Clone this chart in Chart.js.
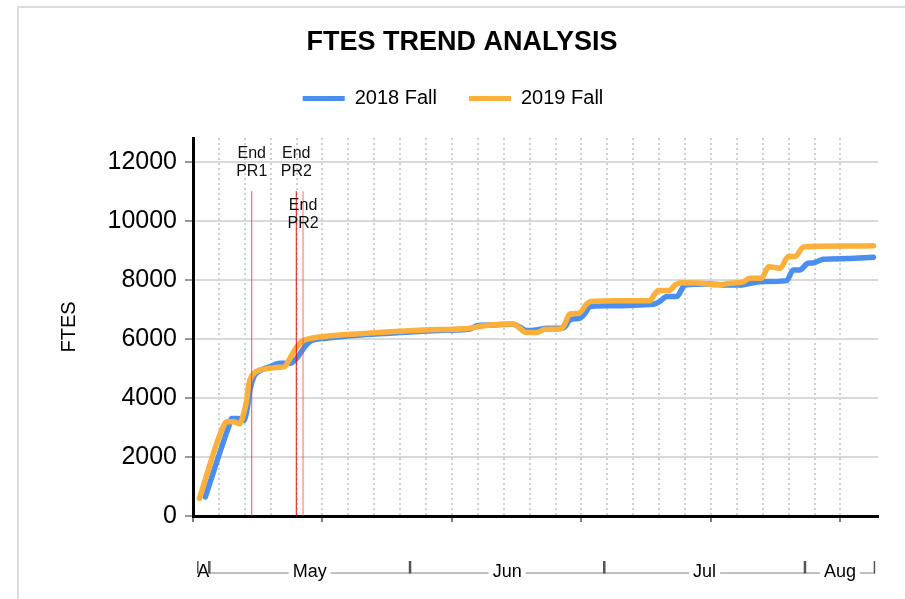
<!DOCTYPE html>
<html>
<head>
<meta charset="utf-8">
<script src="https://cdn.jsdelivr.net/npm/chart.js@4/dist/chart.umd.min.js"></script>
<style>
html,body{margin:0;padding:0;background:#fff;}
#wrap{width:905px;height:599px;position:relative;overflow:hidden;}
canvas{display:block;}
</style>
</head>
<body>
<div id="wrap"><canvas id="c" width="905" height="599"></canvas></div>
<script>
// ---------- data ----------
const chartTitle = 'FTES TREND ANALYSIS';
const seriesNames = ['2018 Fall', '2019 Fall'];
const yTitle = 'FTES';
const yTicks = [0, 2000, 4000, 6000, 8000, 10000, 12000];

// x = days from the left edge of the time axis
const days2018 = [1.9, 5.5, 6.0, 7.0, 7.8, 8.3, 8.8, 9.4, 10.1, 11.9, 13.4, 15.0, 16.0, 17.3, 18.3, 20.6, 25.3, 30.4, 35.6, 40.7, 42.8, 43.8, 46.0, 49.5, 50.6, 51.5, 53.0, 54.6, 56.9, 57.5, 58.2, 59.8, 60.5, 61.3, 62.3, 71.1, 72.0, 73.2, 74.7, 76.0, 79.8, 82.4, 84.5, 87.6, 91.7, 92.7, 93.7, 95.0, 95.8, 97.3, 101.0, 105.1];
const fte2018  = [650, 3020, 3300, 3300, 3230, 3550, 4270, 4720, 4890, 5060, 5170, 5170, 5340, 5740, 5940, 6020, 6120, 6190, 6260, 6300, 6330, 6440, 6470, 6490, 6380, 6280, 6300, 6357, 6357, 6420, 6640, 6700, 6850, 7090, 7113, 7170, 7250, 7430, 7430, 7824, 7858, 7824, 7824, 7936, 7970, 8332, 8332, 8558, 8569, 8694, 8716, 8762];

const days2019 = [1.0, 4.6, 5.2, 6.3, 7.2, 7.8, 8.3, 8.6, 9.1, 10.3, 11.8, 13.4, 14.1, 15.0, 15.8, 16.8, 18.3, 21.2, 25.0, 30.4, 35.6, 42.8, 44.3, 45.9, 49.4, 50.5, 51.3, 53.1, 54.4, 56.7, 57.3, 58.2, 59.6, 60.7, 61.4, 65.9, 70.6, 71.2, 71.9, 73.6, 74.5, 75.4, 78.0, 80.9, 83.0, 85.0, 86.0, 87.8, 88.9, 90.7, 91.9, 93.0, 94.3, 101.0, 105.1];
const fte2019  = [600, 3000, 3190, 3190, 3120, 3450, 3930, 4450, 4750, 4940, 5000, 5040, 5050, 5350, 5650, 5910, 6020, 6100, 6160, 6240, 6300, 6360, 6420, 6470, 6500, 6360, 6220, 6210, 6320, 6330, 6450, 6840, 6865, 7150, 7260, 7290, 7292, 7485, 7640, 7640, 7830, 7900, 7890, 7830, 7880, 7930, 8050, 8050, 8440, 8390, 8780, 8790, 9110, 9140, 9150];

// month brackets under the axis (edges in the same day units)
const monthLabels = ['A', 'May', 'Jun', 'Jul', 'Aug'];
const monthEdges  = [0.66, 2.52, 33.52, 63.52, 94.52, 105.33];

// period-end markers
const markerDays   = [9.07, 15.95, 17.0];
const markerTexts  = [['End', 'PR1'], ['End', 'PR2'], ['End', 'PR2']];
const markerTop    = 11000;
const markerLabelLevels = [12260, 12260, 10500];

const xMax = 105.8;
const yMax = 12800;
const xMinorStep = 4;
const xMajorStep = 20;

// ---------- styles ----------
const BLUE = '#4a8ff0';
const ORANGE = '#fbb03b';
const markerColors = ['rgba(255,30,30,0.8)', 'rgba(225,0,0,0.95)', 'rgba(255,60,60,0.4)'];
const markerWidths = [1, 1, 2];
const FONT = "'Liberation Sans', Arial, sans-serif";

Chart.defaults.font.family = FONT;
Chart.defaults.color = '#000';

const toXY = (xs, ys) => xs.map((x, i) => ({x: x, y: ys[i]}));

const framePlugin = {
  id: 'frame',
  beforeDraw(chart) {
    const ctx = chart.ctx;
    ctx.save();
    ctx.fillStyle = '#fff';
    ctx.fillRect(0, 0, chart.width, chart.height);
    ctx.strokeStyle = '#dcdcdc';
    ctx.lineWidth = 2;
    ctx.strokeRect(18, 7, 1000, 1000);
    ctx.restore();
  }
};

const legendNudge = {
  id: 'legendNudge',
  afterLayout(chart) {
    if (chart.legend) { chart.legend.left -= 9; chart.legend.right -= 9; }
  }
};

const markerLabels = {
  id: 'markerLabels',
  afterDatasetsDraw(chart) {
    const {ctx, scales: {x, y}} = chart;
    ctx.save();
    ctx.font = '16px ' + FONT;
    ctx.fillStyle = '#111';
    ctx.textAlign = 'center';
    ctx.textBaseline = 'middle';
    markerDays.forEach((d, i) => {
      const px = x.getPixelForValue(d);
      const py = y.getPixelForValue(markerLabelLevels[i]);
      markerTexts[i].forEach((t, j) => ctx.fillText(t, px, py + j * 17.6));
    });
    ctx.restore();
  }
};

const monthAxis = {
  id: 'monthAxis',
  afterDraw(chart) {
    const {ctx, chartArea, scales: {x}} = chart;
    const lineY = chartArea.bottom + 57;
    ctx.save();
    ctx.font = '18px ' + FONT;
    ctx.textAlign = 'center';
    ctx.textBaseline = 'middle';
    for (let i = 0; i < monthLabels.length; i++) {
      const x1 = x.getPixelForValue(monthEdges[i]) + 0.5;
      const x2 = x.getPixelForValue(monthEdges[i + 1]) - 0.5;
      const cx = (x1 + x2) / 2;
      const tw = ctx.measureText(monthLabels[i]).width;
      ctx.strokeStyle = '#808080';
      ctx.lineWidth = 1;
      ctx.beginPath();
      if (cx - tw / 2 - 4 > x1) { ctx.moveTo(x1, lineY); ctx.lineTo(cx - tw / 2 - 4, lineY); }
      if (cx + tw / 2 + 4 < x2) { ctx.moveTo(cx + tw / 2 + 4, lineY); ctx.lineTo(x2, lineY); }
      ctx.stroke();
      ctx.strokeStyle = '#555';
      ctx.lineWidth = 1.5;
      ctx.beginPath();
      ctx.moveTo(x1, lineY - 12); ctx.lineTo(x1, lineY + 0.5);
      ctx.moveTo(x2, lineY - 12); ctx.lineTo(x2, lineY + 0.5);
      ctx.stroke();
      ctx.fillStyle = '#000';
      ctx.fillText(monthLabels[i], cx, lineY - 1);
    }
    ctx.restore();
  }
};

const datasets = [
  {label: seriesNames[0], data: toXY(days2018, fte2018), borderColor: BLUE, backgroundColor: BLUE,
   borderWidth: 5.5, pointRadius: 0, cubicInterpolationMode: 'monotone', order: 1,
   borderCapStyle: 'round', borderJoinStyle: 'round'},
  {label: seriesNames[1], data: toXY(days2019, fte2019), borderColor: ORANGE, backgroundColor: ORANGE,
   borderWidth: 5.5, pointRadius: 0, cubicInterpolationMode: 'monotone', order: 0,
   borderCapStyle: 'round', borderJoinStyle: 'round'}
].concat(markerDays.map((d, i) => ({
  label: 'marker' + i, data: [{x: d, y: 0}, {x: d, y: markerTop}],
  borderColor: markerColors[i], backgroundColor: markerColors[i],
  borderWidth: markerWidths[i], pointRadius: 0, order: -1
})));

new Chart(document.getElementById('c'), {
  type: 'line',
  data: {datasets: datasets},
  options: {
    responsive: false,
    animation: false,
    devicePixelRatio: 1,
    events: [],
    layout: {padding: {left: 19, right: 0, top: 10, bottom: 77}},
    plugins: {
      title: {display: true, text: chartTitle, color: '#000',
              font: {size: 27, weight: 'bold', lineHeight: 1}, padding: {top: 19.5, bottom: 0}},
      subtitle: {display: true, text: ' ', font: {size: 10, lineHeight: 1}, padding: {top: 9.5, bottom: 0}},
      legend: {
        display: true, weight: 1800,
        labels: {
          boxWidth: 42, boxHeight: 5, padding: 32, color: '#000', font: {size: 20},
          filter: (it) => it.datasetIndex < 2,
          sort: (a, b) => a.datasetIndex - b.datasetIndex,
          generateLabels: (chart) => Chart.defaults.plugins.legend.labels.generateLabels(chart)
            .map(l => Object.assign(l, {lineWidth: 0}))
        }
      },
      tooltip: {enabled: false}
    },
    scales: {
      x: {
        type: 'linear', min: 0, max: xMax,
        ticks: {display: false, stepSize: xMinorStep, maxTicksLimit: 200, autoSkip: false},
        afterBuildTicks: (s) => { s.ticks = s.ticks.filter(t => Math.abs(t.value % xMinorStep) < 1e-6); },
        grid: {
          color: '#d0d0d0', lineWidth: 2, tickLength: 6, tickWidth: 1.5,
          tickColor: (c) => (c.tick && Math.abs(c.tick.value % xMajorStep) < 1e-6) ? '#555' : 'rgba(0,0,0,0)'
        },
        border: {display: true, color: '#000', width: 3, dash: [2, 3]}
      },
      y: {
        type: 'linear', min: 0, max: yMax,
        ticks: {color: '#000', font: {size: 25}, padding: 8, autoSkip: false, callback: (v) => String(v)},
        afterBuildTicks: (s) => { s.ticks = yTicks.map(v => ({value: v})); },
        afterFit: (s) => { s.width = 174; },
        grid: {color: '#d9d9d9', lineWidth: 2, tickLength: 8, tickColor: '#999', tickWidth: 2},
        border: {display: true, color: '#000', width: 3},
        title: {display: true, text: yTitle, color: '#000', font: {size: 20}, padding: {top: 38.5, bottom: 0}}
      },
      yR: {
        type: 'linear', position: 'right', display: true, min: 0, max: 1,
        ticks: {display: false}, grid: {display: false}, border: {display: false},
        afterFit: (s) => { s.width = 27; }
      }
    }
  },
  plugins: [framePlugin, legendNudge, markerLabels, monthAxis]
});
</script>
</body>
</html>
